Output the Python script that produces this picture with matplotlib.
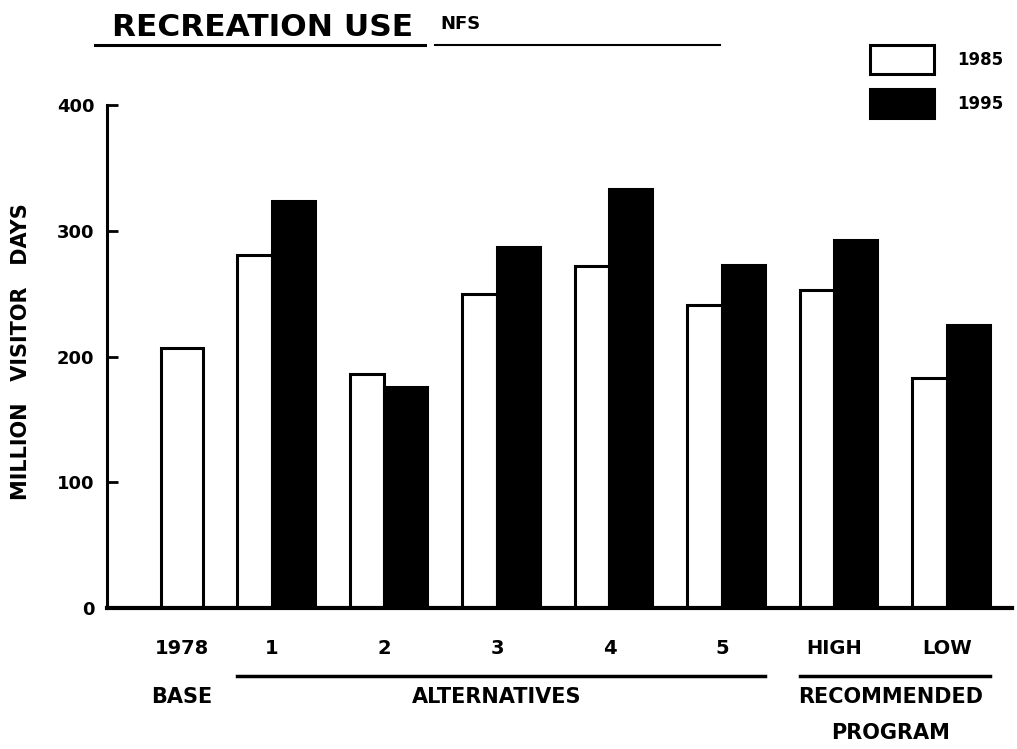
import matplotlib
matplotlib.use("Agg")
import matplotlib.pyplot as plt
import numpy as np
from matplotlib.lines import Line2D
import matplotlib.transforms as mtransforms

plt.rcParams['font.family'] = ['DejaVu Sans']
plt.rcParams['font.weight'] = 'bold'

# ---- data ----
categories = ["1978", "1", "2", "3", "4", "5", "HIGH", "LOW"]
base_1978 = 207
values_1985 = [281, 186, 250, 272, 241, 253, 183]   # alternatives 1-5, HIGH, LOW
values_1995 = [324, 176, 287, 333, 273, 293, 225]
y_ticks = [0, 100, 200, 300, 400]
group_labels = ["BASE", "ALTERNATIVES", "RECOMMENDED", "PROGRAM"]
legend_labels = ["1985", "1995"]

W, H = 1017, 749
fig = plt.figure(figsize=(W / 100, H / 100), dpi=100)
ax_left, ax_right, ax_bottom, ax_top = 107, 1012, 608, 105
ax = fig.add_axes([ax_left / W, 1 - ax_bottom / H, (ax_right - ax_left) / W, (ax_bottom - ax_top) / H])

pos = np.arange(len(categories), dtype=float)
pos[0] += 0.2
w85, w95 = 0.31, 0.38
lw = 2.2

ax.bar(pos[0], base_1978, width=0.37, color='white', edgecolor='black', linewidth=lw)
b85 = ax.bar(pos[1:], values_1985, width=-w85, align='edge', color='white', edgecolor='black', linewidth=lw, label=legend_labels[0])
b95 = ax.bar(pos[1:], values_1995, width=w95, align='edge', color='black', edgecolor='black', linewidth=lw, label=legend_labels[1])

ax.set_xlim(-0.4667, 7.578)
ax.set_ylim(0, 400)
ax.set_yticks(y_ticks)
ax.set_yticklabels([str(t) for t in y_ticks], fontsize=13, fontweight='bold')
ax.tick_params(axis='y', direction='in', length=8, width=2, pad=9)
ax.set_xticks(pos)
ax.set_xticklabels(categories, fontsize=14, fontweight='bold')
ax.tick_params(axis='x', length=0, pad=22)

for s in ['top', 'right']:
    ax.spines[s].set_visible(False)
ax.spines['left'].set_linewidth(2.2)
ax.spines['bottom'].set_linewidth(3)

# group underline lines and labels
trans = mtransforms.blended_transform_factory(ax.transData, ax.transAxes)
def ay(py):
    return (ax_bottom - py) / (ax_bottom - ax_top)

y_line = ay(676)
ax.add_line(Line2D([pos[1] - w85, pos[5] + w95], [y_line, y_line], transform=trans, color='black', lw=2.5, clip_on=False))
ax.add_line(Line2D([pos[6] - w85, pos[7] + w95], [y_line, y_line], transform=trans, color='black', lw=2.5, clip_on=False))

gkw = dict(transform=trans, ha='center', va='center', fontsize=15, fontweight='bold')
ax.text(pos[0], ay(697), group_labels[0], **gkw)
ax.text(np.mean(pos[1:6]), ay(697), group_labels[1], **gkw)
ax.text(np.mean(pos[6:8]), ay(697), group_labels[2], **gkw)
ax.text(np.mean(pos[6:8]), ay(733), group_labels[3], **gkw)

# y label
fig.text(21 / W, 1 - 352 / H, "MILLION   VISITOR   DAYS", rotation=90, ha='center', va='center', fontsize=15, fontweight='bold')

# title
fig.text(112 / W, 1 - 28 / H, "RECREATION USE", ha='left', va='center', fontsize=22.5, fontweight='bold')
fig.text(440 / W, 1 - 24 / H, "NFS", ha='left', va='center', fontsize=13, fontweight='bold')
fig.add_artist(Line2D([95 / W, 425 / W], [1 - 45 / H, 1 - 45 / H], color='black', lw=2.2))
fig.add_artist(Line2D([435 / W, 720 / W], [1 - 45 / H, 1 - 45 / H], color='black', lw=1.5))

# legend
leg = fig.legend(handles=[b85, b95], labels=legend_labels, loc='upper left',
                 bbox_to_anchor=(870 / W, 1 - 45 / H), bbox_transform=fig.transFigure,
                 frameon=False, prop={'weight': 'bold', 'size': 12},
                 handlelength=3.85, handleheight=2.3, labelspacing=0.9, handletextpad=1.4,
                 borderpad=0, borderaxespad=0)

fig.savefig("out.png", dpi=100)
